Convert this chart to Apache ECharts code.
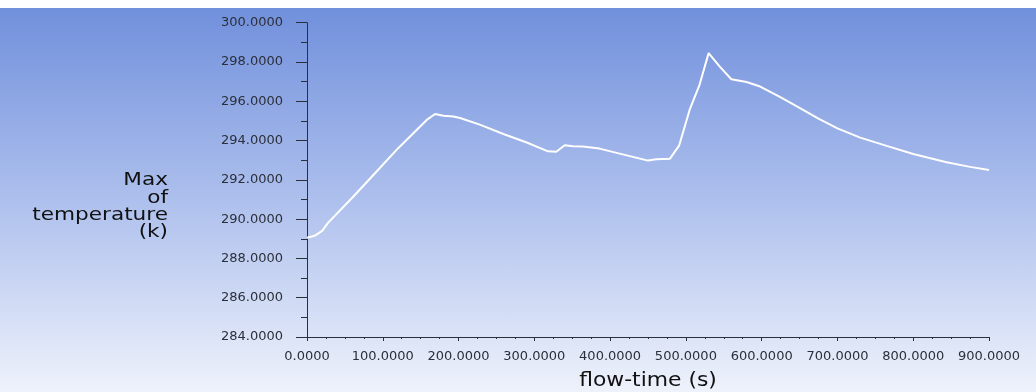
<!DOCTYPE html>
<html>
<head>
<meta charset="utf-8">
<script src="https://cdn.jsdelivr.net/npm/echarts@6/dist/echarts.min.js"></script>
<style>
html,body{margin:0;padding:0;width:1036px;height:392px;overflow:hidden;
background:linear-gradient(to bottom,#ffffff 0px,#ffffff 8px,#7190dc 8px,#aabdec 190px,#eef2fb 392px);}
#chart{width:1036px;height:392px;}
</style>
</head>
<body>
<div id="chart"></div>
<script>
const flowTime = [0, 10, 20, 28, 60, 90, 120, 158, 169, 180, 193, 202, 228, 260, 290, 318, 329, 340, 351, 364, 386, 410, 430, 450, 461, 479, 491, 505, 518, 530, 545, 560, 580, 598, 624, 650, 675, 700, 730, 765, 800, 844, 875, 900];
const maxTemperature = [289.05, 289.15, 289.4, 289.82, 291.1, 292.35, 293.6, 295.05, 295.35, 295.26, 295.23, 295.15, 294.81, 294.32, 293.9, 293.45, 293.43, 293.76, 293.71, 293.7, 293.59, 293.36, 293.17, 292.98, 293.05, 293.08, 293.74, 295.57, 296.84, 298.45, 297.75, 297.12, 296.98, 296.75, 296.22, 295.66, 295.12, 294.62, 294.15, 293.73, 293.32, 292.9, 292.66, 292.5];
const xTitle = 'flow-time (s)';
const yTitle = 'Max\nof\ntemperature\n(k)';

const chart = echarts.init(document.getElementById('chart'), null, {renderer: 'canvas'});
const axisColor = '#2b2f3a';
const labelStyle = {fontFamily: 'DejaVu Sans', fontSize: 13, color: '#2b2f3a'};
chart.setOption({
  backgroundColor: 'transparent',
  animation: false,
  grid: {left: 307, right: 47, top: 22.7, bottom: 55},
  graphic: [
    {type: 'text', x: 168, y: 172, scaleX: 1.2,
     style: {text: yTitle, align: 'right', verticalAlign: 'top', fontFamily: 'DejaVu Sans', fontSize: 18, lineHeight: 17.3, fill: '#111'}},
    {type: 'text', x: 648, y: 372, scaleX: 1.15,
     style: {text: xTitle, align: 'center', verticalAlign: 'top', fontFamily: 'DejaVu Sans', fontSize: 19, fill: '#111'}}
  ],
  xAxis: {
    type: 'value', min: 0, max: 900, interval: 100,
    axisLine: {show: true, lineStyle: {color: axisColor, width: 1}},
    axisTick: {show: true, length: 4, lineStyle: {color: axisColor}},
    minorTick: {show: true, splitNumber: 4, length: 2, lineStyle: {color: axisColor}},
    splitLine: {show: false},
    axisLabel: Object.assign({margin: 13, formatter: v => v.toFixed(4)}, labelStyle)
  },
  yAxis: {
    type: 'value', min: 284, max: 300, interval: 2,
    axisLine: {show: true, lineStyle: {color: axisColor, width: 1}},
    axisTick: {show: true, length: 11, lineStyle: {color: axisColor}},
    minorTick: {show: true, splitNumber: 2, length: 6, lineStyle: {color: axisColor}},
    splitLine: {show: false},
    axisLabel: Object.assign({margin: 24, formatter: v => v.toFixed(4)}, labelStyle)
  },
  series: [{
    type: 'line',
    data: flowTime.map((t, i) => [t, maxTemperature[i]]),
    showSymbol: false,
    lineStyle: {color: '#ffffff', width: 2},
    smooth: false
  }]
});
</script>
</body>
</html>
